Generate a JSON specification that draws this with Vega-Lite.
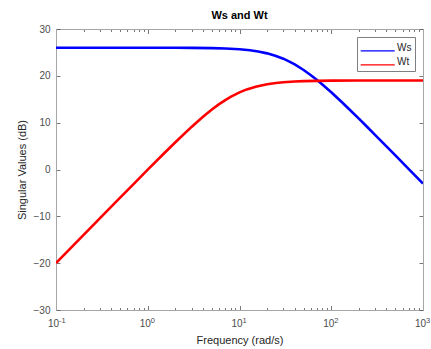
{
  "$schema": "https://vega.github.io/schema/vega-lite/v6.json",
  "width": 367,
  "height": 281,
  "autosize": {"type": "none"},
  "padding": {"left": 56, "top": 29, "right": 8, "bottom": 39},
  "background": "white",
  "config": {"view": {"stroke": null}, "font": "Liberation Sans"},
  "title": {"text": "Ws and Wt", "fontSize": 11, "fontWeight": "bold", "font": "Liberation Sans", "color": "#000000", "anchor": "middle", "offset": 3},
  "datasets": {
    "curves": [
      {"w": 0.1, "dB": 26.0, "series": "Ws"},
      {"w": 0.2, "dB": 26.0, "series": "Ws"},
      {"w": 0.5, "dB": 26.0, "series": "Ws"},
      {"w": 1, "dB": 26.0, "series": "Ws"},
      {"w": 2, "dB": 25.99, "series": "Ws"},
      {"w": 3, "dB": 25.97, "series": "Ws"},
      {"w": 5, "dB": 25.91, "series": "Ws"},
      {"w": 7, "dB": 25.83, "series": "Ws"},
      {"w": 10, "dB": 25.67, "series": "Ws"},
      {"w": 13, "dB": 25.45, "series": "Ws"},
      {"w": 16, "dB": 25.2, "series": "Ws"},
      {"w": 20, "dB": 24.8, "series": "Ws"},
      {"w": 25, "dB": 24.25, "series": "Ws"},
      {"w": 30, "dB": 23.66, "series": "Ws"},
      {"w": 35, "dB": 23.05, "series": "Ws"},
      {"w": 40, "dB": 22.44, "series": "Ws"},
      {"w": 50, "dB": 21.25, "series": "Ws"},
      {"w": 60, "dB": 20.14, "series": "Ws"},
      {"w": 70, "dB": 19.11, "series": "Ws"},
      {"w": 80, "dB": 18.16, "series": "Ws"},
      {"w": 100, "dB": 16.49, "series": "Ws"},
      {"w": 130, "dB": 14.41, "series": "Ws"},
      {"w": 160, "dB": 12.71, "series": "Ws"},
      {"w": 200, "dB": 10.85, "series": "Ws"},
      {"w": 250, "dB": 8.96, "series": "Ws"},
      {"w": 300, "dB": 7.4, "series": "Ws"},
      {"w": 400, "dB": 4.93, "series": "Ws"},
      {"w": 500, "dB": 3.0, "series": "Ws"},
      {"w": 700, "dB": 0.09, "series": "Ws"},
      {"w": 1000, "dB": -3.0, "series": "Ws"},
      {"w": 0.1, "dB": -19.99, "series": "Wt"},
      {"w": 0.2, "dB": -13.97, "series": "Wt"},
      {"w": 0.3, "dB": -10.45, "series": "Wt"},
      {"w": 0.5, "dB": -6.02, "series": "Wt"},
      {"w": 0.7, "dB": -3.11, "series": "Wt"},
      {"w": 1, "dB": -0.04, "series": "Wt"},
      {"w": 1.5, "dB": 3.41, "series": "Wt"},
      {"w": 2, "dB": 5.82, "series": "Wt"},
      {"w": 3, "dB": 9.09, "series": "Wt"},
      {"w": 4, "dB": 11.25, "series": "Wt"},
      {"w": 5, "dB": 12.8, "series": "Wt"},
      {"w": 6, "dB": 13.95, "series": "Wt"},
      {"w": 7, "dB": 14.82, "series": "Wt"},
      {"w": 8, "dB": 15.5, "series": "Wt"},
      {"w": 10, "dB": 16.47, "series": "Wt"},
      {"w": 12, "dB": 17.1, "series": "Wt"},
      {"w": 15, "dB": 17.69, "series": "Wt"},
      {"w": 20, "dB": 18.21, "series": "Wt"},
      {"w": 25, "dB": 18.48, "series": "Wt"},
      {"w": 30, "dB": 18.62, "series": "Wt"},
      {"w": 40, "dB": 18.79, "series": "Wt"},
      {"w": 50, "dB": 18.86, "series": "Wt"},
      {"w": 70, "dB": 18.93, "series": "Wt"},
      {"w": 100, "dB": 18.97, "series": "Wt"},
      {"w": 200, "dB": 18.99, "series": "Wt"},
      {"w": 500, "dB": 19.0, "series": "Wt"},
      {"w": 1000, "dB": 19.0, "series": "Wt"}
    ],
    "exponents": [
      {"w": 0.1, "exp": "-1"},
      {"w": 1, "exp": "0"},
      {"w": 10, "exp": "1"},
      {"w": 100, "exp": "2"},
      {"w": 1000, "exp": "3"}
    ]
  },
  "layer": [
    {
      "data": {"name": "curves"},
      "mark": {"type": "line", "strokeWidth": 2.6, "clip": true},
      "encoding": {
        "x": {
          "field": "w", "type": "quantitative",
          "scale": {"type": "log", "domain": [0.1, 1000]},
          "axis": {
            "orient": "bottom",
            "values": [0.1,0.2,0.3,0.4,0.5,0.6,0.7,0.8,0.9,1,2,3,4,5,6,7,8,9,10,20,30,40,50,60,70,80,90,100,200,300,400,500,600,700,800,900,1000],
            "labelExpr": "indexof([0.1,1,10,100,1000], datum.value) >= 0 ? '10' : ''",
            "labelOverlap": false, "labelFlush": false, "labelBound": false,
            "labelOffset": -3,
            "grid": false,
            "tickSize": {"condition": {"test": "indexof([0.1,1,10,100,1000], datum.value) >= 0", "value": -4.5}, "value": -2.5},
            "tickColor": "#555555", "tickWidth": 0.8,
            "domainColor": "#a6a6a6", "domainWidth": 1,
            "labelPadding": 13, "labelFontSize": 10, "labelColor": "#4d4d4d", "labelFont": "Liberation Sans",
            "title": "Frequency (rad/s)", "titleFontSize": 11, "titleFontWeight": "normal", "titleColor": "#262626", "titlePadding": 4, "titleFont": "Liberation Sans"
          }
        },
        "y": {
          "field": "dB", "type": "quantitative",
          "scale": {"domain": [-30, 30], "nice": false, "zero": false},
          "axis": {
            "orient": "left",
            "values": [-30,-20,-10,0,10,20,30],
            "grid": false,
            "tickSize": -4, "tickColor": "#555555", "tickWidth": 0.8,
            "domainColor": "#a6a6a6", "domainWidth": 1,
            "labelPadding": 10, "labelFontSize": 10, "labelColor": "#4d4d4d", "labelFont": "Liberation Sans",
            "title": "Singular Values (dB)", "titleFontSize": 11, "titleFontWeight": "normal", "titleColor": "#262626", "titlePadding": 6, "titleFont": "Liberation Sans"
          }
        },
        "color": {
          "field": "series", "type": "nominal",
          "scale": {"domain": ["Ws", "Wt"], "range": ["#0000ff", "#ff0000"]},
          "legend": {
            "orient": "top-right", "offset": 8, "title": null,
            "symbolType": "M-1,0.5H4", "symbolSize": 185, "symbolStrokeWidth": 1.1,
            "labelFontSize": 10, "labelColor": "#262626", "labelFont": "Liberation Sans", "labelOffset": 22,
            "rowPadding": 0, "padding": 3,
            "strokeColor": "#7f7f7f", "fillColor": "#ffffff"
          }
        }
      }
    },
    {
      "data": {"name": "curves"},
      "mark": {"type": "line", "opacity": 0},
      "encoding": {
        "x": {
          "field": "w", "type": "quantitative",
          "scale": {"type": "log", "domain": [0.1, 1000]},
          "axis": {
            "orient": "top",
            "values": [0.1,0.2,0.3,0.4,0.5,0.6,0.7,0.8,0.9,1,2,3,4,5,6,7,8,9,10,20,30,40,50,60,70,80,90,100,200,300,400,500,600,700,800,900,1000],
            "labels": false, "grid": false, "title": null,
            "tickSize": {"condition": {"test": "indexof([0.1,1,10,100,1000], datum.value) >= 0", "value": -4.5}, "value": -2.5},
            "tickColor": "#555555", "tickWidth": 0.8,
            "domainColor": "#a6a6a6", "domainWidth": 1
          }
        },
        "y": {
          "field": "dB", "type": "quantitative",
          "scale": {"domain": [-30, 30], "nice": false, "zero": false},
          "axis": {
            "orient": "right",
            "values": [-30,-20,-10,0,10,20,30],
            "labels": false, "grid": false, "title": null,
            "tickSize": -4, "tickColor": "#555555", "tickWidth": 0.8,
            "domainColor": "#a6a6a6", "domainWidth": 1
          }
        },
        "detail": {"field": "series", "type": "nominal"}
      }
    },
    {
      "data": {"name": "exponents"},
      "mark": {"type": "text", "align": "left", "baseline": "alphabetic", "dx": 3, "dy": 13, "fontSize": 7.5, "font": "Liberation Sans", "color": "#4d4d4d", "clip": false},
      "encoding": {
        "x": {"field": "w", "type": "quantitative", "scale": {"type": "log", "domain": [0.1, 1000]}, "axis": null},
        "y": {"datum": -30, "type": "quantitative", "axis": null},
        "text": {"field": "exp", "type": "nominal"}
      }
    }
  ],
  "resolve": {"axis": {"x": "independent", "y": "independent"}}
}
